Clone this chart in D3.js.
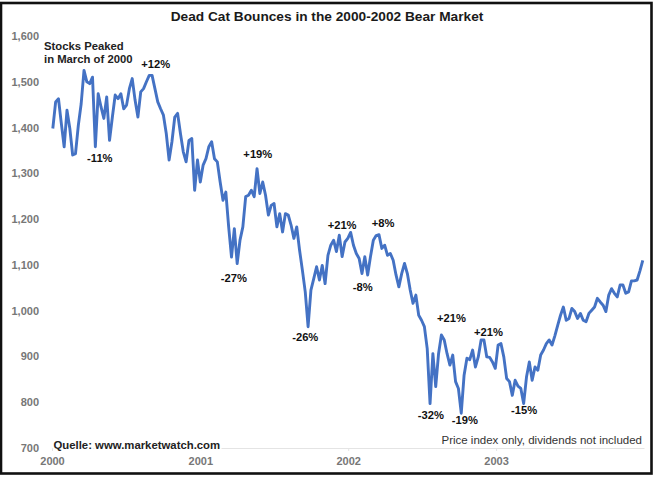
<!DOCTYPE html>
<html>
<head>
<meta charset="utf-8">
<script src="https://cdnjs.cloudflare.com/ajax/libs/d3/7.8.5/d3.min.js"></script>
<style>
  html, body { margin: 0; padding: 0; background: #fff; }
  svg { display: block; font-family: "Liberation Sans", Arial, sans-serif; }
</style>
</head>
<body>
<div id="chart"></div>
<script>
/* Dead cat bounces: weekly index closes */
const startDate = new Date(2000, 0, 3);
const closes = [
  1398, 1456, 1463, 1409, 1358, 1438, 1398, 1340, 1343, 1405,
  1452, 1525, 1500, 1496, 1510, 1358, 1474, 1445, 1420, 1467,
  1372, 1423, 1471, 1463, 1474, 1441, 1449, 1485, 1507, 1460,
  1423, 1478, 1485, 1500, 1514, 1514, 1485, 1456, 1441, 1427,
  1387, 1329, 1369, 1423, 1431, 1387, 1347, 1325, 1372, 1376,
  1263, 1329, 1281, 1318, 1332, 1358, 1369, 1332, 1325, 1281,
  1241, 1259, 1183, 1117, 1179, 1103, 1154, 1183, 1249, 1252,
  1263, 1249, 1310, 1256, 1281, 1252, 1209, 1230, 1234, 1183,
  1212, 1172, 1212, 1209, 1187, 1158, 1183, 1132, 1088, 1041,
  965, 1045, 1070, 1096, 1067, 1099, 1059, 1121, 1143, 1154,
  1129, 1165, 1118, 1150, 1158, 1171, 1143, 1125, 1114, 1081,
  1118, 1078, 1118, 1154, 1164, 1166, 1136, 1143, 1121, 1125,
  1110, 1078, 1052, 1081, 1103, 1081, 1045, 1016, 1034, 990,
  979, 965, 917, 797, 906, 834, 906, 947, 936, 906,
  881, 903, 845, 830, 776, 859, 896, 893, 914, 877,
  899, 936, 936, 899, 898, 888, 874, 925, 928, 899,
  852, 845, 815, 848, 835, 830, 797, 855, 888, 848,
  877, 870, 903, 914, 928, 936, 925, 945, 968, 990,
  1008, 979, 983, 1005, 998, 983, 994, 979, 976, 994,
  1001, 1008, 1027, 1019, 1012, 998, 1034, 1048, 1038, 1030,
  1056, 1056, 1038, 1041, 1065, 1065, 1067, 1087, 1110
];

const yTicks = [700, 800, 900, 1000, 1100, 1200, 1300, 1400, 1500, 1600];
const xTicks = [2000, 2001, 2002, 2003];

const moveLabels = ['+12%', '-11%', '+19%', '-27%', '-26%', '+21%', '+8%', '-8%', '-32%', '+21%', '-19%', '+21%', '-15%'];
const moveYears = [2000.703, 2000.324, 2001.39, 2001.23, 2001.71, 2001.96, 2002.236, 2002.10, 2002.56, 2002.70, 2002.79, 2002.95, 2003.19];
const moveLevels = [1530, 1324, 1333, 1062, 934, 1178, 1183, 1043, 764, 975, 752, 945, 774];

const titleText = 'Dead Cat Bounces in the 2000-2002 Bear Market';
const peakLines = ['Stocks Peaked', 'in March of 2000'];
const sourceText = 'Quelle: www.marketwatch.com';
const noteText = 'Price index only, dividends not included';

/* Layout */
const TW = 656, TH = 477;
const M = { top: 36, right: 12, bottom: 29, left: 52 };
const H = TH - M.top - M.bottom;
const W = 592;

const svg = d3.select('#chart').append('svg').attr('width', TW).attr('height', TH);

svg.append('rect').attr('width', TW).attr('height', TH).attr('fill', '#fff');

// Picture frame
svg.append('rect')
  .attr('x', 1).attr('y', 3).attr('width', 650.5).attr('height', 470.5)
  .attr('fill', 'none').attr('stroke', '#111').attr('stroke-width', 2.6);

svg.append('text')
  .attr('x', 327).attr('y', 20.5)
  .attr('text-anchor', 'middle')
  .attr('font-size', 13.7).attr('font-weight', 'bold').attr('fill', '#1a1a1a')
  .text(titleText);

const root = svg.append('g').attr('transform', `translate(${M.left},${M.top})`);

/* Scales */
const xScale = d3.scaleTime().domain([new Date(2000, 0, 1), new Date(2004, 0, 1)]).range([0, W]);
const yScale = d3.scaleLinear().domain([700, 1600]).range([H, 0]);
const yearToDate = y => new Date(Math.floor(y), 0, 1 + (y - Math.floor(y)) * 365);

/* Axes */
const xAxis = d3.axisBottom(xScale)
  .tickValues(xTicks.map(y => new Date(y, 0, 1)))
  .tickFormat(d3.timeFormat('%Y'))
  .tickSizeInner(3)
  .tickSizeOuter(0)
  .tickPadding(6);
const gx = root.append('g').attr('transform', `translate(0,${H})`).call(xAxis);
gx.select('.domain').attr('stroke', '#e4e4e4');
gx.selectAll('.tick line').attr('stroke', '#e4e4e4');
gx.selectAll('.tick text')
  .attr('font-size', 11).attr('font-weight', 'bold').attr('fill', '#777');

const yAxis = d3.axisLeft(yScale)
  .tickValues(yTicks)
  .tickFormat(d3.format(','))
  .tickSize(0)
  .tickPadding(13);
const gy = root.append('g').call(yAxis);
gy.select('.domain').remove();
gy.selectAll('.tick text')
  .attr('font-size', 11).attr('font-weight', 'bold').attr('fill', '#777');

/* Index line */
const line = d3.line()
  .x((d, i) => xScale(d3.timeWeek.offset(startDate, i)))
  .y(d => yScale(d))
  .curve(d3.curveLinear);

root.append('path')
  .datum(closes)
  .attr('d', line)
  .attr('fill', 'none')
  .attr('stroke', '#4472c4')
  .attr('stroke-width', 2.9)
  .attr('stroke-linejoin', 'round');

/* Annotations */
root.selectAll('.move')
  .data(moveLabels)
  .join('text')
  .attr('class', 'move')
  .attr('x', (d, i) => xScale(yearToDate(moveYears[i])))
  .attr('y', (d, i) => yScale(moveLevels[i]))
  .attr('text-anchor', 'middle')
  .attr('font-size', 11.2).attr('font-weight', 'bold').attr('fill', '#111')
  .text(d => d);

svg.selectAll('.peak')
  .data(peakLines)
  .join('text')
  .attr('class', 'peak')
  .attr('x', 44)
  .attr('y', (d, i) => 50 + i * 13)
  .attr('font-size', 11.3).attr('font-weight', 'bold').attr('fill', '#222')
  .text(d => d);

svg.append('text')
  .attr('x', 53.5).attr('y', 448.5)
  .attr('font-size', 11.35).attr('font-weight', 'bold').attr('fill', '#222')
  .attr('stroke', '#fff').attr('stroke-width', 4).attr('paint-order', 'stroke')
  .text(sourceText);

svg.append('text')
  .attr('x', 642).attr('y', 443.5)
  .attr('text-anchor', 'end')
  .attr('font-size', 11.5).attr('fill', '#333')
  .text(noteText);
</script>
</body>
</html>
